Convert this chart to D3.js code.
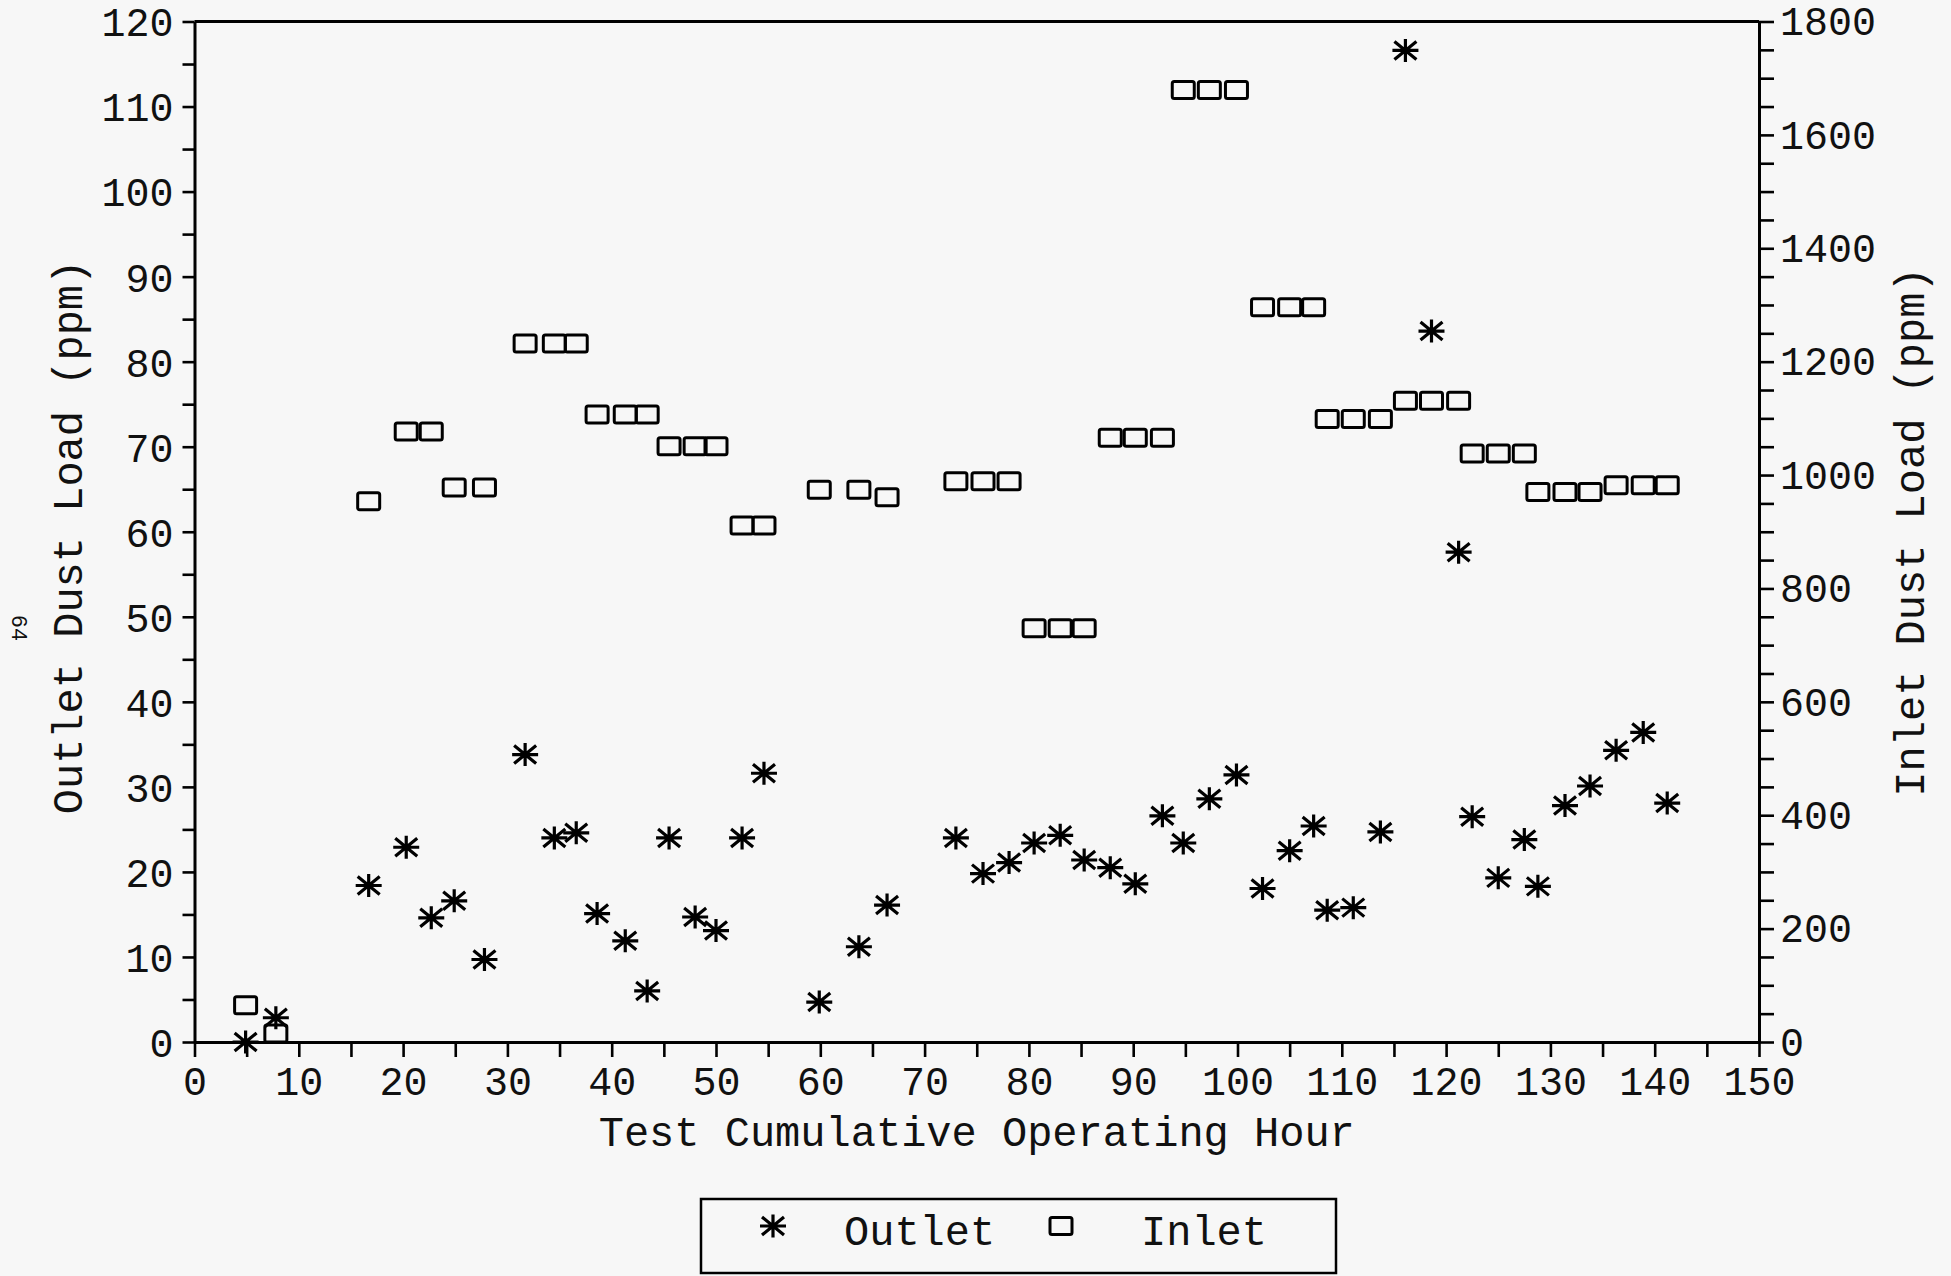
<!DOCTYPE html>
<html>
<head>
<meta charset="utf-8">
<script src="https://cdn.jsdelivr.net/npm/d3@7"></script>
<style>
  html, body { margin: 0; padding: 0; background: #f7f7f7; }
  svg { display: block; }
  text { font-family: "Liberation Mono", "Courier New", monospace; fill: #111; }
</style>
</head>
<body>
<svg id="chart" width="1951" height="1276"></svg>
<script>
// ---- data ----
const hours = [4.9, 7.8, 16.7, 20.3, 22.7, 24.9, 27.8, 31.7, 34.5, 36.6, 38.6, 41.3, 43.4, 45.5, 48.0, 50.0,
  52.5, 54.6, 59.9, 63.7, 66.4, 73.0, 75.6, 78.1, 80.5, 83.0, 85.3, 87.8, 90.2, 92.8, 94.8, 97.3, 99.9,
  102.4, 105.0, 107.3, 108.6, 111.1, 113.7, 116.1, 118.6, 121.2, 122.5, 125.0, 127.5, 128.8, 131.4,
  133.8, 136.3, 138.9, 141.2];
const outlet = [0, 2.85, 18.4, 22.9, 14.6, 16.6, 9.7, 33.8, 24.0, 24.6, 15.1, 11.9, 6.0, 24.0, 14.7, 13.1,
  24.0, 31.6, 4.7, 11.2, 16.1, 24.0, 19.8, 21.1, 23.4, 24.3, 21.4, 20.5, 18.6, 26.6, 23.4, 28.6, 31.4,
  18.05, 22.5, 25.4, 15.5, 15.8, 24.7, 116.6, 83.6, 57.6, 26.5, 19.3, 23.8, 18.3, 27.8,
  30.1, 34.3, 36.4, 28.1];
const inlet = [65, 15, 954, 1077, 1077, 978, 978, 1232, 1232, 1232, 1107, 1107, 1107, 1051, 1051, 1051,
  911, 911, 974, 974, 961, 989, 989, 989, 730, 730, 730, 1066, 1066, 1066, 1679, 1679, 1679,
  1296, 1296, 1296, 1099, 1099, 1099, 1131, 1131, 1131, 1038, 1038, 1038, 970, 970, 970,
  982, 982, 982];
const xTickLabels = [0, 10, 20, 30, 40, 50, 60, 70, 80, 90, 100, 110, 120, 130, 140, 150];
const leftTickLabels = [0, 10, 20, 30, 40, 50, 60, 70, 80, 90, 100, 110, 120];
const rightTickLabels = [0, 200, 400, 600, 800, 1000, 1200, 1400, 1600, 1800];
const seriesNames = ["Outlet", "Inlet"];

// ---- layout ----
const L = 194.5, R = 1759, T = 21.5, B = 1042;
const svg = d3.select("#chart");
svg.append("rect").attr("width", 1951).attr("height", 1276).attr("fill", "#f7f7f7");

const x = d3.scaleLinear().domain([0, 150]).range([L, R]);
const yL = d3.scaleLinear().domain([0, 120]).range([B, T]);
const yR = d3.scaleLinear().domain([0, 1800]).range([B, T]);

const fmtIf = (arr) => (d) => arr.includes(d) ? String(d) : "";

function styleAxis(g) {
  g.select(".domain").attr("stroke", "#000").attr("stroke-width", 3);
  g.selectAll(".tick line").attr("stroke", "#000").attr("stroke-width", 2.6);
  g.selectAll(".tick text").attr("font-family", '"Liberation Mono", "Courier New", monospace')
    .attr("font-size", 40).attr("fill", "#111");
}

// bottom axis
const gx = svg.append("g").attr("transform", `translate(0,${B})`)
  .call(d3.axisBottom(x).tickValues(d3.range(0, 151, 5)).tickFormat(fmtIf(xTickLabels))
    .tickSize(15).tickSizeOuter(0).tickPadding(10));
styleAxis(gx);

// left axis
const gl = svg.append("g").attr("transform", `translate(${L},0)`)
  .call(d3.axisLeft(yL).tickValues(d3.range(0, 121, 5)).tickFormat(fmtIf(leftTickLabels))
    .tickSize(12).tickSizeOuter(0).tickPadding(9));
styleAxis(gl);
gl.selectAll(".tick text").attr("dy", "0.36em");

// right axis
const gr = svg.append("g").attr("transform", `translate(${R},0)`)
  .call(d3.axisRight(yR).tickValues(d3.range(0, 1801, 50)).tickFormat(fmtIf(rightTickLabels))
    .tickSize(15).tickSizeOuter(0).tickPadding(6));
styleAxis(gr);
gr.selectAll(".tick text").attr("dy", "0.33em");

// top border
svg.append("line").attr("x1", L).attr("x2", R).attr("y1", T).attr("y2", T)
  .attr("stroke", "#000").attr("stroke-width", 3);

// titles
svg.append("text").attr("x", (L + R) / 2).attr("y", 1146).attr("text-anchor", "middle")
  .attr("font-size", 42).text("Test Cumulative Operating Hour");
svg.append("text").attr("transform", `translate(82,537) rotate(-90)`).attr("text-anchor", "middle")
  .attr("font-size", 42).text("Outlet Dust Load (ppm)");
svg.append("text").attr("transform", `translate(1924,532) rotate(-90)`).attr("text-anchor", "middle")
  .attr("font-size", 42).text("Inlet Dust Load (ppm)");
svg.append("text").attr("transform", `translate(12,628) rotate(90)`).attr("text-anchor", "middle")
  .attr("font-size", 22).text("64");

// markers
const starPath = "M-13,0L13,0M0,-11.5L0,11.5M-11,-9L11,9M-11,9L11,-9";
function drawBox(g, cx, cy) {
  g.append("rect").attr("x", cx - 11).attr("y", cy - 8.5).attr("width", 22).attr("height", 17)
    .attr("rx", 2).attr("fill", "none").attr("stroke", "#000").attr("stroke-width", 3);
}
function drawStar(g, cx, cy) {
  g.append("path").attr("d", starPath).attr("transform", `translate(${cx},${cy})`)
    .attr("fill", "none").attr("stroke", "#000").attr("stroke-width", 3.2);
}

const gBoxes = svg.append("g");
hours.forEach((h, i) => drawBox(gBoxes, x(h), yR(inlet[i])));
const gStars = svg.append("g");
hours.forEach((h, i) => drawStar(gStars, x(h), yL(outlet[i])));

// legend
const lg = svg.append("g");
lg.append("rect").attr("x", 701).attr("y", 1199).attr("width", 635).attr("height", 74)
  .attr("fill", "none").attr("stroke", "#000").attr("stroke-width", 2.5);
drawStar(lg, 773, 1226);
lg.append("text").attr("x", 844).attr("y", 1245).attr("font-size", 42).text(seriesNames[0]);
drawBox(lg, 1061, 1226);
lg.append("text").attr("x", 1141).attr("y", 1245).attr("font-size", 42).text(seriesNames[1]);
</script>
</body>
</html>
